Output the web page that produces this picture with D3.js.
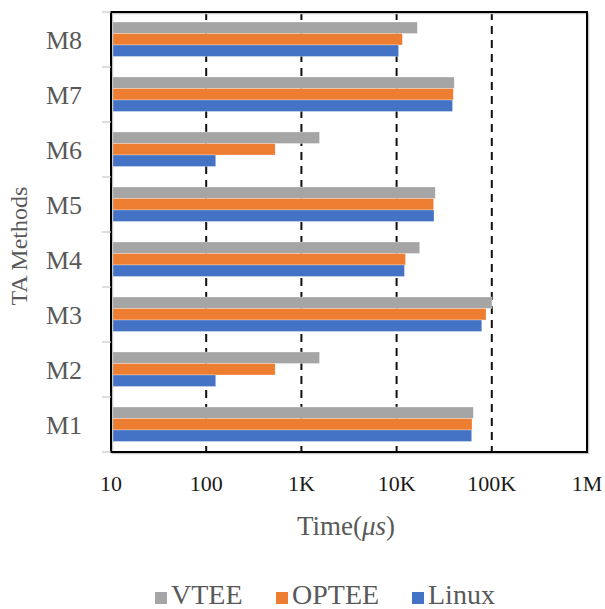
<!DOCTYPE html>
<html>
<head>
<meta charset="utf-8">
<script src="https://cdn.jsdelivr.net/npm/d3@7"></script>
<style>
  html, body { margin: 0; padding: 0; background: #fff; }
  svg { display: block; }
</style>
</head>
<body>
<svg id="chart" width="605" height="609"></svg>
<script>
// TA method execution times (microseconds)
const methods = ["M1", "M2", "M3", "M4", "M5", "M6", "M7", "M8"];
const seriesNames = ["VTEE", "OPTEE", "Linux"];
const vtee  = [64000, 1550, 100500, 17500, 25500, 1550, 40300, 16500];
const optee = [62000,  530,  87000, 12400, 24500,  530, 39400, 11500];
const linux = [61500,  126,  78500, 12100, 24700,  126, 38700, 10500];
const tickValues = [10, 100, 1000, 10000, 100000, 1000000];
const tickLabels = ["10", "100", "1K", "10K", "100K", "1M"];
const colors = ["#A5A5A5", "#ED7D31", "#4472C4"];

const seriesValues = [vtee, optee, linux];
const FONT = '"Liberation Serif", "Times New Roman", serif';

const svg = d3.select("#chart");
const plot = { left: 111, right: 587, top: 12, bottom: 452 };

const x = d3.scaleLog()
  .domain([10, 1000000])
  .range([plot.left, plot.right]);

// M8 at top, M1 at bottom
const y = d3.scaleBand()
  .domain(methods.slice().reverse())
  .range([plot.top, plot.bottom])
  .padding(0);

const ySeries = d3.scaleBand()
  .domain(seriesNames)
  .range([10, y.bandwidth() - 10.5])
  .padding(0);

// Dashed vertical gridlines at each decade
svg.append("g")
  .selectAll("line")
  .data(tickValues.slice(1, -1))
  .join("line")
  .attr("x1", d => x(d)).attr("x2", d => x(d))
  .attr("y1", plot.top).attr("y2", plot.bottom)
  .attr("stroke", "#111")
  .attr("stroke-width", 2)
  .attr("stroke-dasharray", "8,6");

// Bars
const rows = methods.map((m, i) => ({
  method: m,
  values: seriesNames.map((s, k) => ({ series: s, k, value: seriesValues[k][i] }))
}));

const groups = svg.append("g")
  .selectAll("g")
  .data(rows)
  .join("g")
  .attr("transform", d => `translate(0,${y(d.method)})`);

groups.selectAll("rect")
  .data(d => d.values)
  .join("rect")
  .attr("x", x(10))
  .attr("y", d => ySeries(d.series))
  .attr("width", d => x(d.value) - x(10))
  .attr("height", ySeries.bandwidth())
  .attr("fill", d => colors[d.k])
  .attr("stroke", "#ffffff")
  .attr("stroke-opacity", 0.5)
  .attr("stroke-width", 0.6);

// Frame with a soft shadow edge
svg.append("rect")
  .attr("x", plot.left + 1.5).attr("y", plot.top + 1.5)
  .attr("width", plot.right - plot.left).attr("height", plot.bottom - plot.top)
  .attr("fill", "none")
  .attr("stroke", "#c8c8c8")
  .attr("stroke-width", 1.5);
svg.append("rect")
  .attr("x", plot.left).attr("y", plot.top)
  .attr("width", plot.right - plot.left).attr("height", plot.bottom - plot.top)
  .attr("fill", "none")
  .attr("stroke", "#000")
  .attr("stroke-width", 2);

// Category axis ticks at band boundaries
const boundaries = d3.range(methods.length + 1).map(i => plot.top + i * y.step());
svg.append("g")
  .selectAll("line")
  .data(boundaries)
  .join("line")
  .attr("x1", plot.left - 9).attr("x2", plot.left)
  .attr("y1", d => d).attr("y2", d => d)
  .attr("stroke", "#c8c8c8")
  .attr("stroke-width", 1.2);

// Category labels
svg.append("g")
  .selectAll("text")
  .data(methods)
  .join("text")
  .attr("x", 82)
  .attr("y", d => y(d) + y.bandwidth() / 2 + 9)
  .attr("text-anchor", "end")
  .attr("font-size", 26)
  .attr("fill", "#595959")
  .style("font-family", FONT)
  .text(d => d);

// Value axis labels
svg.append("g")
  .selectAll("text")
  .data(tickValues)
  .join("text")
  .attr("x", d => x(d))
  .attr("y", 491)
  .attr("text-anchor", "middle")
  .attr("font-size", 22)
  .attr("fill", "#1a1a1a")
  .style("font-family", FONT)
  .text((d, i) => tickLabels[i]);

// Axis titles
const xTitle = svg.append("text")
  .attr("x", 346)
  .attr("y", 535)
  .attr("text-anchor", "middle")
  .attr("font-size", 27)
  .attr("fill", "#595959")
  .style("font-family", FONT);
xTitle.append("tspan").text("Time(");
xTitle.append("tspan").attr("font-style", "italic").text("μs");
xTitle.append("tspan").text(")");

svg.append("text")
  .attr("transform", "translate(27,246) rotate(-90)")
  .attr("text-anchor", "middle")
  .attr("font-size", 24)
  .attr("fill", "#595959")
  .style("font-family", FONT)
  .text("TA Methods");

// Legend
const legendItems = [
  { name: "VTEE", color: colors[0], x: 155 },
  { name: "OPTEE", color: colors[1], x: 276 },
  { name: "Linux", color: colors[2], x: 412 }
];
const legend = svg.append("g");
legend.selectAll("rect")
  .data(legendItems)
  .join("rect")
  .attr("x", d => d.x)
  .attr("y", 592)
  .attr("width", 12)
  .attr("height", 12)
  .attr("fill", d => d.color);
legend.selectAll("text")
  .data(legendItems)
  .join("text")
  .attr("x", d => d.x + 16)
  .attr("y", 604)
  .attr("font-size", 28)
  .attr("fill", "#595959")
  .style("font-family", FONT)
  .text(d => d.name);
</script>
</body>
</html>
